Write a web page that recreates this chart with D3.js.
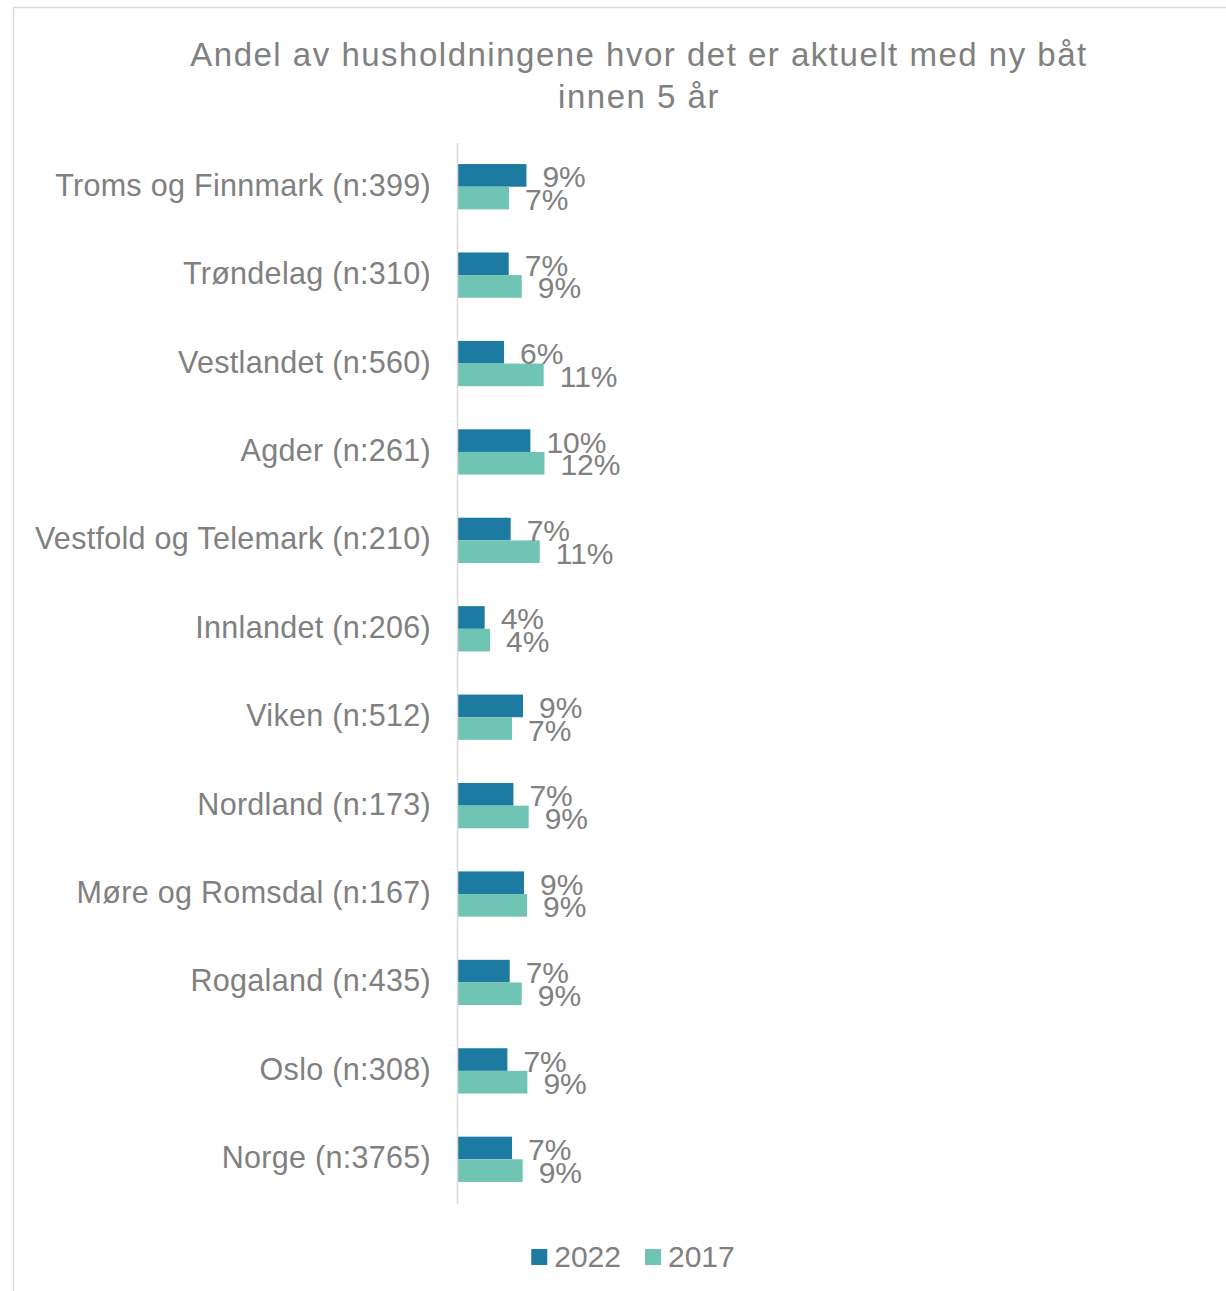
<!DOCTYPE html>
<html>
<head>
<meta charset="utf-8">
<script src="https://cdn.jsdelivr.net/npm/d3@7"></script>
<style>
  body { margin: 0; background: #fff; }
  svg { display: block; font-family: "Liberation Sans", Arial, sans-serif; }
</style>
</head>
<body>
<div id="chart"></div>
<script>
// regions, top to bottom
var categories = [
  "Troms og Finnmark (n:399)",
  "Trøndelag (n:310)",
  "Vestlandet (n:560)",
  "Agder (n:261)",
  "Vestfold og Telemark (n:210)",
  "Innlandet (n:206)",
  "Viken (n:512)",
  "Nordland (n:173)",
  "Møre og Romsdal (n:167)",
  "Rogaland (n:435)",
  "Oslo (n:308)",
  "Norge (n:3765)"
];
var seriesNames = ["2022", "2017"];
// shares (labels show rounded values)
var values2022 = [0.0916, 0.0679, 0.0616, 0.0969, 0.0705, 0.0357, 0.0870, 0.0742, 0.0884, 0.0692, 0.0661, 0.0723];
var values2017 = [0.0683, 0.0853, 0.1147, 0.1157, 0.1094, 0.0428, 0.0723, 0.0946, 0.0924, 0.0853, 0.0929, 0.0866];
var titleLines = ["Andel av husholdningene hvor det er aktuelt med ny båt", "innen 5 år"];

var width = 1226;
var height = 1291;
var textColor = "#808080";
var color = d3.scaleOrdinal().domain(seriesNames).range(["#1d7aa0", "#70c4b3"]);

var data = categories.map(function (c, i) {
  return { name: c, values: [
    { series: "2022", value: values2022[i] },
    { series: "2017", value: values2017[i] }
  ] };
});

var svg = d3.select("#chart")
  .append("svg")
  .attr("width", width)
  .attr("height", height);

/* Frame */
svg.append("path")
  .attr("d", "M13.5," + height + "V7.5H" + width)
  .attr("fill", "none")
  .attr("stroke", "#d9d9d9")
  .attr("stroke-width", 1.5);

/* Title */
svg.append("g")
  .selectAll("text")
  .data(titleLines)
  .enter()
  .append("text")
  .attr("x", 639)
  .attr("y", (d, i) => 66 + i * 42)
  .attr("text-anchor", "middle")
  .attr("fill", textColor)
  .style("font-size", "33px")
  .style("letter-spacing", "1.5px")
  .text((d) => d);

/* Scales */
var x = d3.scaleLinear().domain([0, 1]).range([458, 1205]);

var y = d3.scaleBand()
  .domain(categories)
  .range([142.5, 1203.5])
  .paddingInner(0.488)
  .paddingOuter(0.244);

var y1 = d3.scaleBand()
  .domain(seriesNames)
  .range([0, y.bandwidth()]);

/* Bars */
var groups = svg.append("g")
  .selectAll(".group")
  .data(data)
  .enter()
  .append("g")
  .attr("class", "group")
  .attr("transform", (d) => `translate(0, ${y(d.name)})`);

groups.selectAll("rect")
  .data((d) => d.values)
  .enter()
  .append("rect")
  .attr("x", x(0))
  .attr("y", (d) => y1(d.series))
  .attr("width", (d) => x(d.value) - x(0))
  .attr("height", y1.bandwidth())
  .attr("fill", (d) => color(d.series));

/* Data labels */
var fmt = d3.format(".0%");
groups.selectAll(".label")
  .data((d) => d.values)
  .enter()
  .append("text")
  .attr("class", "label")
  .attr("x", (d) => x(d.value) + 16)
  .attr("y", (d) => y1(d.series) + y1.bandwidth() / 2 + 12)
  .attr("fill", textColor)
  .style("font-size", "30px")
  .text((d) => fmt(d.value));

/* Category axis */
var yAxis = d3.axisLeft(y).tickSize(0).tickPadding(0);
var axisG = svg.append("g")
  .attr("transform", "translate(457, 0)")
  .call(yAxis);
axisG.select(".domain")
  .attr("stroke", "#d9d9d9")
  .attr("stroke-width", 1.5);
axisG.selectAll(".tick text")
  .attr("x", -26)
  .attr("dy", null)
  .attr("y", 9)
  .attr("fill", textColor)
  .style("font-size", "30.5px")
  .style("letter-spacing", "0.3px")
  .style("font-family", "\"Liberation Sans\", Arial, sans-serif");

/* Legend */
var legend = svg.append("g").attr("class", "legend");
var items = legend.selectAll("g")
  .data(seriesNames)
  .enter()
  .append("g");
items.append("rect")
  .attr("width", 16)
  .attr("height", 16)
  .attr("y", 1249)
  .attr("fill", (d) => color(d));
items.append("text")
  .attr("x", 23)
  .attr("y", 1267)
  .attr("fill", textColor)
  .style("font-size", "30px")
  .text((d) => d);

var offset = 0;
var widths = [];
items.each(function () {
  widths.push(this.getBBox().width);
});
var gap = 24;
var total = d3.sum(widths) + gap * (widths.length - 1);
var start = 633 - total / 2;
items.attr("transform", function (d, i) {
  var tx = start + offset;
  offset += widths[i] + gap;
  return `translate(${tx}, 0)`;
});
</script>
</body>
</html>
